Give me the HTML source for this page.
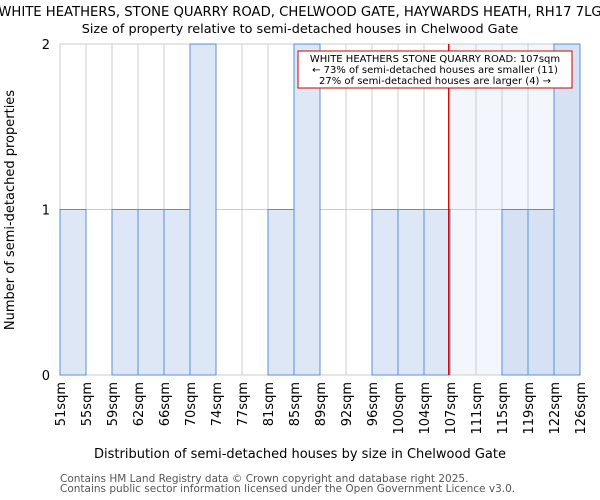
<!DOCTYPE html>
<html><head><meta charset="utf-8"><style>
body{margin:0;background:#fff;}
svg{display:block;font-family:"DejaVu Sans","Liberation Sans",sans-serif;}
</style></head><body>
<svg id="chart" width="600" height="500">
<text x="300" y="16" text-anchor="middle" font-size="13.2">WHITE HEATHERS, STONE QUARRY ROAD, CHELWOOD GATE, HAYWARDS HEATH, RH17 7LG</text>
<text x="300" y="33" text-anchor="middle" font-size="12.8">Size of property relative to semi-detached houses in Chelwood Gate</text>
<g id="plot"></g>
<text x="300" y="458" text-anchor="middle" font-size="13">Distribution of semi-detached houses by size in Chelwood Gate</text>
<text transform="translate(14,210) rotate(-90)" text-anchor="middle" font-size="13">Number of semi-detached properties</text>
<text x="60" y="482" font-size="10.5" fill="#555">Contains HM Land Registry data © Crown copyright and database right 2025.</text>
<text x="60" y="492" font-size="10.5" fill="#555">Contains public sector information licensed under the Open Government Licence v3.0.</text>
</svg>
<script>
const binLabels=["51sqm","55sqm","59sqm","62sqm","66sqm","70sqm","74sqm","77sqm","81sqm","85sqm","89sqm","92sqm","96sqm","100sqm","104sqm","107sqm","111sqm","115sqm","119sqm","122sqm","126sqm"];
const counts=[1,0,1,1,1,2,0,0,1,2,0,0,1,1,1,0,0,1,1,2];
const yTicks=[0,1,2];
const highlightIndex=15;
const markerBin=14.95;
const NS="http://www.w3.org/2000/svg";
const L=60,R=580,T=44,B=375;
const n=counts.length,bw=(R-L)/n;
const x=i=>L+i*bw;
const y=v=>B-(B-T)*v/2;
const g=document.getElementById('plot');
function mk(t,a){const e=document.createElementNS(NS,t);for(const k in a)e.setAttribute(k,a[k]);g.appendChild(e);return e;}
for(let i=highlightIndex;i<n;i++){const e=mk('rect',{x:x(i),y:T,width:bw,height:B-T,fill:'#f3f6fd'});

}
for(let i=0;i<=n;i++){const e=mk('line',{x1:x(i),x2:x(i),y1:T,y2:B,stroke:'#cccccc','stroke-width':1});

}
yTicks.forEach(v=>{const e=mk('line',{x1:L,x2:R,y1:y(v),y2:y(v),stroke:'#cccccc','stroke-width':1});


const t=mk('text',{x:50,y:y(v)+5,'text-anchor':'end','font-size':13});t.textContent=v;

});
counts.forEach((c,i)=>{if(c<=0)return;const e=mk('rect',{x:x(i),y:y(c),width:bw,height:B-y(c),fill:i>=highlightIndex?'#d6e2f3':'#dde7f5',stroke:'#5a8fd8','stroke-width':1});

});
binLabels.forEach((s,i)=>{const t=mk('text',{transform:`translate(${x(i)+5},382) rotate(-90)`,'text-anchor':'end','font-size':13});t.textContent=s;

});
const mx=x(markerBin);
const ml=mk('line',{x1:mx,x2:mx,y1:T,y2:B,stroke:'#cc0000','stroke-width':1.3});


const box=mk('rect',{x:298,y:51,width:274,height:37,fill:'#fff',stroke:'#cc0000','stroke-width':1});


["WHITE HEATHERS STONE QUARRY ROAD: 107sqm","← 73% of semi-detached houses are smaller (11)","27% of semi-detached houses are larger (4) →"].forEach((s,k)=>{const t=mk('text',{x:435,y:62+k*11,'text-anchor':'middle','font-size':10});t.textContent=s;

});
</script>
</body></html>
